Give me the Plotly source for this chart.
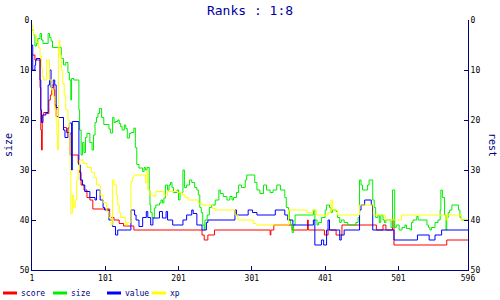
import plotly.graph_objects as go

# ---- data (rank index -> rank value, stepped) ----
score_x = [1, 5, 12, 13, 14, 15, 17, 21, 24, 26, 28, 31, 32, 34, 37, 44, 48, 53, 64, 66, 68, 72, 76, 80, 84,
           107, 113, 120, 126, 140, 233, 236, 241, 250, 326, 327, 331, 356, 377, 378, 400, 405, 416, 424,
           471, 480, 484, 493, 495, 567, 596]
score_y = [7, 8, 13.5, 22, 26, 19, 18.5, 18.7, 16, 15, 13, 14, 17, 19.3, 19.5, 21.5, 22.5, 27, 28.7, 30.5, 33, 34, 35.5, 36, 37.8,
           39.5, 40, 40.7, 41.2, 42, 43, 44, 43, 42, 43, 42, 41, 42, 40, 42, 43, 42, 43, 41,
           42, 41, 42, 40, 45, 44, 44]

size_x = [1, 3, 5, 7, 9, 12, 14, 16, 23, 25, 27, 29, 41, 44, 47, 50, 52, 54, 55, 58, 65, 66, 68, 70, 72, 74, 76, 80, 83, 85,
          87, 89, 91, 93, 96, 99, 106, 108, 111, 113, 115, 118, 120, 122, 124, 127, 129, 131, 134, 136, 140, 142, 144, 147,
          152, 154, 156, 158, 161, 162, 163, 165, 168, 170, 175, 177, 179, 181, 183, 186, 188, 190, 192, 194, 199, 201, 203,
          207, 209, 212, 216, 219, 223, 226, 228, 230, 232, 234, 236, 237, 240, 243, 246, 251, 256, 258, 262, 267, 271, 274,
          276, 280, 283, 287, 292, 294, 305, 308, 312, 317, 321, 326, 330, 335, 340, 346, 348, 351, 352, 354, 356, 358, 360,
          385, 387, 390, 392, 396, 401, 403, 407, 409, 411, 416, 418, 421, 423, 427, 432, 443, 446, 448, 450, 452, 459, 461,
          466, 468, 470, 473, 475, 477, 480, 482, 484, 491, 493, 496, 498, 502, 506, 510, 512, 517, 519, 521, 526, 528, 540,
          542, 544, 546, 551, 555, 558, 559, 561, 564, 566, 567, 569, 571, 574, 583, 585, 587, 596]
size_y = [2, 3, 5.2, 4.7, 3.7, 2.7, 4, 4.7, 2.7, 3.5, 4.2, 5.5, 7.7, 9, 8.5, 10.5, 12, 16, 11.7, 12, 18, 22, 27, 24.5, 26.5, 23.5, 22.7, 24.5, 26, 23,
          20.5, 19.5, 18.7, 17.7, 19.5, 20.9, 21.8, 22.6, 19.5, 20.5, 20.3, 20, 20.7, 21.3, 22, 21, 21.7, 23.6, 22.7, 22.5, 21.6, 25.5, 28.9, 29.6,
          30.3, 29.5, 30, 29.5, 34, 37, 38.5, 39.5, 37.6, 37, 36.6, 36, 36.6, 35.6, 33, 34, 33, 32.5, 33.5, 34.5, 34, 36, 34.5,
          30, 33.5, 33, 32, 32.5, 33.5, 34, 35, 37.5, 38.5, 41, 42, 40, 39, 37.5, 37, 36, 34, 34.7, 35.3, 36, 35.3, 36,
          35.5, 34.5, 33, 33.5, 32, 31, 32.5, 34, 34.7, 33, 34, 34.5, 34, 33, 34, 35.5, 37.5, 38, 40, 41, 42.5, 41, 39,
          38, 40, 41, 40.5, 39.5, 38, 37, 37.5, 38.5, 38, 38.3, 39.5, 40.5, 40, 40.5, 41, 40.5, 39.5, 32, 33, 34, 33, 32,
          36, 37.5, 39.5, 39, 40.5, 39, 40, 40.5, 40, 41.5, 34, 41.5, 41, 42, 41.5, 41, 41.7, 42, 40.5, 40, 39.3, 40, 41,
          41.5, 42, 41.5, 40.5, 40, 38, 34, 35.5, 39, 42, 39.5, 38.5, 38, 37, 38, 39.5, 40, 40]

value_x = [1, 2, 5, 6, 7, 12, 13, 14, 16, 20, 23, 25, 27, 30, 32, 34, 37, 44, 46, 50, 52, 55, 56, 65, 67, 70, 73, 80, 87, 89,
           94, 98, 100, 106, 111, 115, 118, 136, 141, 143, 147, 152, 157, 159, 163, 166, 175, 179, 184, 186, 193, 207, 212,
           219, 221, 226, 233, 239, 241, 278, 280, 296, 302, 308, 333, 346, 350, 357, 385, 387, 396, 399, 403, 405, 407, 421,
           423, 427, 448, 450, 455, 464, 466, 495, 527, 543, 551, 560, 596]
value_y = [5, 10, 9, 8, 7.7, 12, 18, 20.5, 19, 18.5, 13, 10, 13.5, 12, 13, 17.5, 19.5, 22, 23.5, 21.6, 20.6, 30, 20.3, 29, 32, 33, 34.3, 35.5, 36, 34,
           36, 37.5, 38, 40, 41.3, 43, 42, 38, 39, 40, 41.3, 39.5, 38.3, 39.5, 41, 39.6, 38.3, 39.6, 38.3, 40, 41, 40, 39,
           38, 38.7, 41, 42, 40.5, 40, 38, 39, 38, 38.5, 39, 38, 39, 40, 41, 40, 45, 44, 45, 42, 40, 42, 44,
           43, 42, 38, 37, 36, 37, 42, 44, 43, 44, 43, 42, 42]

xp_x = [1, 2, 3, 7, 10, 12, 14, 15, 17, 21, 25, 28, 30, 32, 34, 35, 36, 37, 38, 39, 41, 43, 45, 47, 50, 52, 53, 54, 56, 58,
        60, 62, 64, 66, 71, 76, 82, 86, 89, 94, 98, 103, 106, 109, 111, 113, 116, 118, 120, 122, 129, 131, 136, 138, 140,
        156, 158, 159, 162, 166, 170, 181, 186, 200, 206, 210, 214, 228, 233, 247, 251, 278, 282, 303, 307, 351, 376, 384,
        389, 405, 409, 411, 418, 448, 467, 483, 505, 566, 568, 587, 596]
xp_y = [1, 2, 3, 4.5, 5.5, 7.3, 9.5, 11.3, 12, 8, 12, 14, 15.3, 18, 20, 23, 26, 5.3, 4, 7, 10, 12.7, 15, 18, 20, 23, 30, 38.7, 35, 37.5,
        36, 32, 30, 28, 28.7, 29.5, 30.5, 31.5, 33, 35, 36.5, 38.3, 39.5, 41, 32, 33, 35, 37, 38.5, 39.5, 41, 40.5, 32.3, 31.5, 31,
        32.5, 30, 34, 35, 35.2, 34.3, 35, 34.3, 34.5, 35, 35.5, 36, 36.7, 37, 37.7, 38, 39, 40, 40.7, 41, 38, 38.5, 38,
        39, 38.5, 36, 38, 39, 37, 39, 40, 39, 40, 39, 40, 40]

series = [("score", score_x, score_y, "#ff0000"),
          ("size", size_x, size_y, "#00ee00"),
          ("value", value_x, value_y, "#0000ff"),
          ("xp", xp_x, xp_y, "#ffff00")]

x_ticks = [1, 101, 201, 301, 401, 501, 596]
y_ticks = [0, 10, 20, 30, 40, 50]

NAVY = "#000080"
MONO = "DejaVu Sans Mono"

fig = go.Figure()
for name, xs, ys, col in series:
    fig.add_trace(go.Scatter(x=xs, y=ys, mode="lines", name=name,
                             line=dict(color=col, width=1, shape="hv"),
                             showlegend=False, hoverinfo="skip"))
# empty trace so the right-hand axis is drawn
fig.add_trace(go.Scatter(x=[], y=[], yaxis="y2", showlegend=False, hoverinfo="skip"))

axis_common = dict(showline=True, linecolor=NAVY, linewidth=1, ticks="inside", ticklen=4,
                   tickcolor=NAVY, showgrid=False, zeroline=False,
                   tickfont=dict(family=MONO, size=8, color="#000000"))

fig.update_layout(
    width=500, height=300,
    margin=dict(l=32, r=32, t=20, b=30),
    paper_bgcolor="white", plot_bgcolor="white",
    title=dict(text="Ranks : 1:8", x=0.5, xanchor="center", y=1 - 10 / 300, yanchor="middle",
               yref="container", font=dict(family=MONO, size=13, color="#0000a0")),
    xaxis=dict(range=[1, 596], tickvals=x_ticks, ticktext=[str(v) for v in x_ticks], **axis_common),
    yaxis=dict(range=[50, 0], tickvals=y_ticks, **axis_common),
    yaxis2=dict(range=[50, 0], tickvals=y_ticks, overlaying="y", side="right", anchor="x", **axis_common),
    showlegend=False,
)

# axis titles
fig.add_annotation(text="size", xref="paper", yref="paper", x=-24 / 436, y=0.5, showarrow=False,
                   xanchor="center", yanchor="middle",
                   textangle=-90, font=dict(family=MONO, size=10, color=NAVY))
fig.add_annotation(text="rest", xref="paper", yref="paper", x=1 + 25 / 436, y=0.5, showarrow=False,
                   xanchor="center", yanchor="middle",
                   textangle=90, font=dict(family=MONO, size=10, color=NAVY))

# legend drawn below plot
leg_pos = [3, 53, 107, 152]
for (name, _, _, col), px in zip(series, leg_pos):
    x0 = (px - 32) / 436
    x1 = (px + 14 - 32) / 436
    yl = (270 - 293) / 250
    fig.add_shape(type="line", xref="paper", yref="paper", x0=x0, x1=x1, y0=yl, y1=yl,
                  line=dict(color=col, width=3))
    fig.add_annotation(text=name, xref="paper", yref="paper", x=(px + 16 - 32) / 436, y=yl,
                       xanchor="left", yanchor="middle", showarrow=False,
                       font=dict(family=MONO, size=8, color=NAVY))

fig.write_html("out.html")
